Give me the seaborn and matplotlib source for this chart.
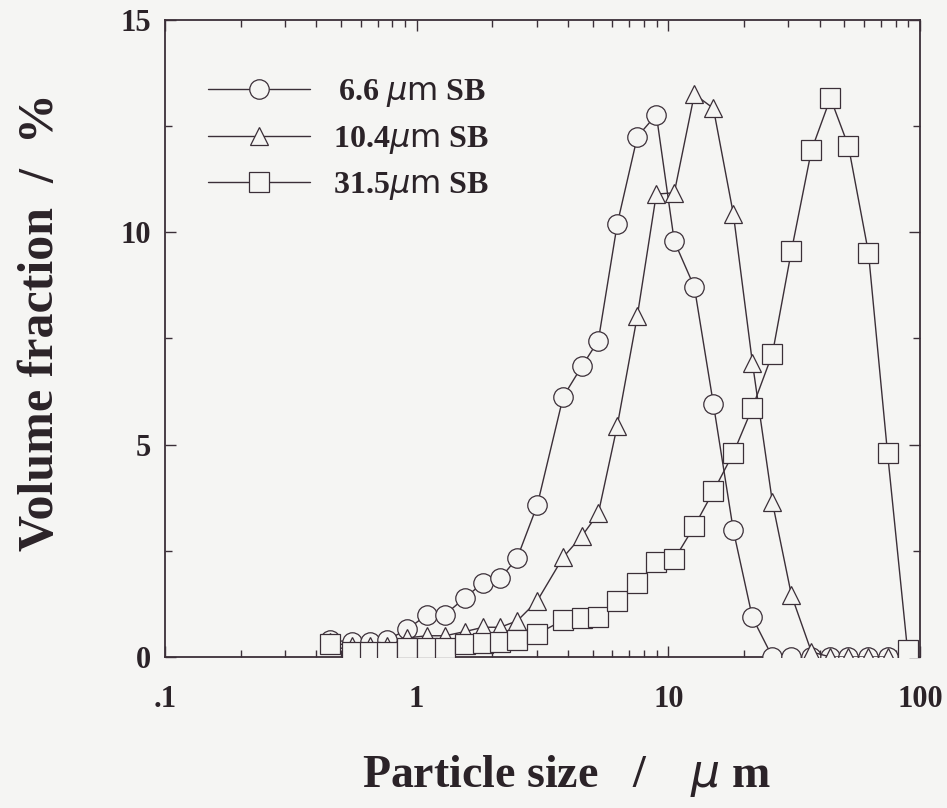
import matplotlib
matplotlib.use("Agg")
import matplotlib.pyplot as plt
import matplotlib.ticker as mticker
import seaborn as sns
import pandas as pd

# Particle size bins (µm) shared by the three distributions
sizes = [0.453, 0.554, 0.653, 0.763, 0.917, 1.101, 1.298, 1.559, 1.838, 2.148,
         2.509, 3.013, 3.823, 4.55, 5.27, 6.27, 7.53, 8.96, 10.56, 12.69,
         15.10, 18.13, 21.58, 25.92, 30.83, 37.03, 44.07, 51.95, 62.4, 74.3, 89.2]

# Volume fraction (%) per bin
sb_6_6 = [0.4, 0.35, 0.35, 0.4, 0.65, 1.0, 1.0, 1.4, 1.75, 1.85,
          2.33, 3.57, 6.13, 6.86, 7.45, 10.2, 12.25, 12.77, 9.79, 8.71,
          5.96, 2.98, 0.93, 0.0, 0.0, 0.0, 0.0, 0.0, 0.0, 0.0]
sb_10_4 = [0.35, 0.25, 0.25, 0.25, 0.45, 0.5, 0.5, 0.6, 0.7, 0.7,
           0.85, 1.32, 2.35, 2.86, 3.38, 5.45, 8.03, 10.9, 10.93, 13.25,
           12.92, 10.43, 6.93, 3.64, 1.46, 0.12, 0.0, 0.0, 0.0, 0.0]
sb_31_5 = [0.3, 0.12, 0.12, 0.12, 0.21, 0.21, 0.21, 0.3, 0.33, 0.35,
           0.4, 0.54, 0.87, 0.92, 0.94, 1.31, 1.74, 2.23, 2.3, 3.08,
           3.9, 4.8, 5.87, 7.14, 9.56, 11.93, 13.16, 12.03, 9.52, 4.8, 0.16]

labels = [r"$\,$6.6 $\mu\mathrm{m}$ SB", r"10.4$\mu\mathrm{m}$ SB", r"31.5$\mu\mathrm{m}$ SB"]
markers = ["o", "^", "s"]
x_ticks = [0.1, 1, 10, 100]
x_ticklabels = [".1", "1", "10", "100"]
y_ticks = [0, 5, 10, 15]

sns.set_theme(style="white")
plt.rcParams["font.family"] = ["Liberation Serif", "DejaVu Serif"]
plt.rcParams["mathtext.fontset"] = "dejavusans"

ink = "#3b2f38"
text_ink = "#2b2328"
paper = "#f5f5f3"

fig = plt.figure(figsize=(9.47, 8.08), dpi=100, facecolor=paper)
ax = fig.add_axes([0.1742, 0.1869, 0.7973, 0.7884])
ax.set_facecolor(paper)

series = [sb_6_6, sb_10_4, sb_31_5]
for i, (vals, mk, lab) in enumerate(zip(series, markers, labels)):
    df = pd.DataFrame({"size": sizes[:len(vals)], "vf": vals})
    ms = 14.0 if mk != "^" else 13.5
    sns.lineplot(data=df, x="size", y="vf", ax=ax, color=ink, lw=1.0,
                 marker=mk, markersize=ms, markerfacecolor=paper,
                 markeredgecolor=ink, markeredgewidth=0.9,
                 label=lab, zorder=3 + i, estimator=None, sort=False)

ax.set_xscale("log")
ax.set_xlim(0.1, 100)
ax.set_ylim(0, 15)
ax.set_xticks(x_ticks)
ax.set_xticklabels(x_ticklabels)
ax.xaxis.set_minor_locator(mticker.LogLocator(base=10, subs=range(2, 10)))
ax.xaxis.set_minor_formatter(mticker.NullFormatter())
ax.set_yticks(y_ticks)
ax.yaxis.set_minor_locator(mticker.MultipleLocator(2.5))

ax.tick_params(which="both", direction="in", top=True, right=True,
               bottom=True, left=True, color=ink, width=1.0)
ax.tick_params(which="major", length=8)
ax.tick_params(which="minor", length=5)
ax.tick_params(axis="x", which="major", pad=20)
ax.tick_params(axis="y", which="major", pad=10)
for t in ax.get_xticklabels() + ax.get_yticklabels():
    t.set_fontsize(22)
    t.set_fontweight("bold")
    t.set_color(text_ink)

for sp in ax.spines.values():
    sp.set_color(ink)
    sp.set_linewidth(1.3)

ax.set_xlabel(r"Particle size   /    $\mu$ m", fontsize=33, fontweight="bold",
              color=text_ink)
ax.xaxis.set_label_coords(0.532, -0.150)
ax.set_ylabel("Volume fraction  /  %", fontsize=36, fontweight="bold",
              color=text_ink)
ax.yaxis.set_label_coords(-0.134, 0.525)

leg = ax.legend(loc="upper left", bbox_to_anchor=(0.04, 0.93), frameon=False,
                prop={"family": ["Liberation Serif"], "weight": "bold", "size": 23},
                handlelength=3.2, handletextpad=0.7, labelspacing=0.45,
                borderaxespad=0.0)
for t in leg.get_texts():
    t.set_color(text_ink)

fig.savefig("out.png", dpi=100, facecolor=paper)
